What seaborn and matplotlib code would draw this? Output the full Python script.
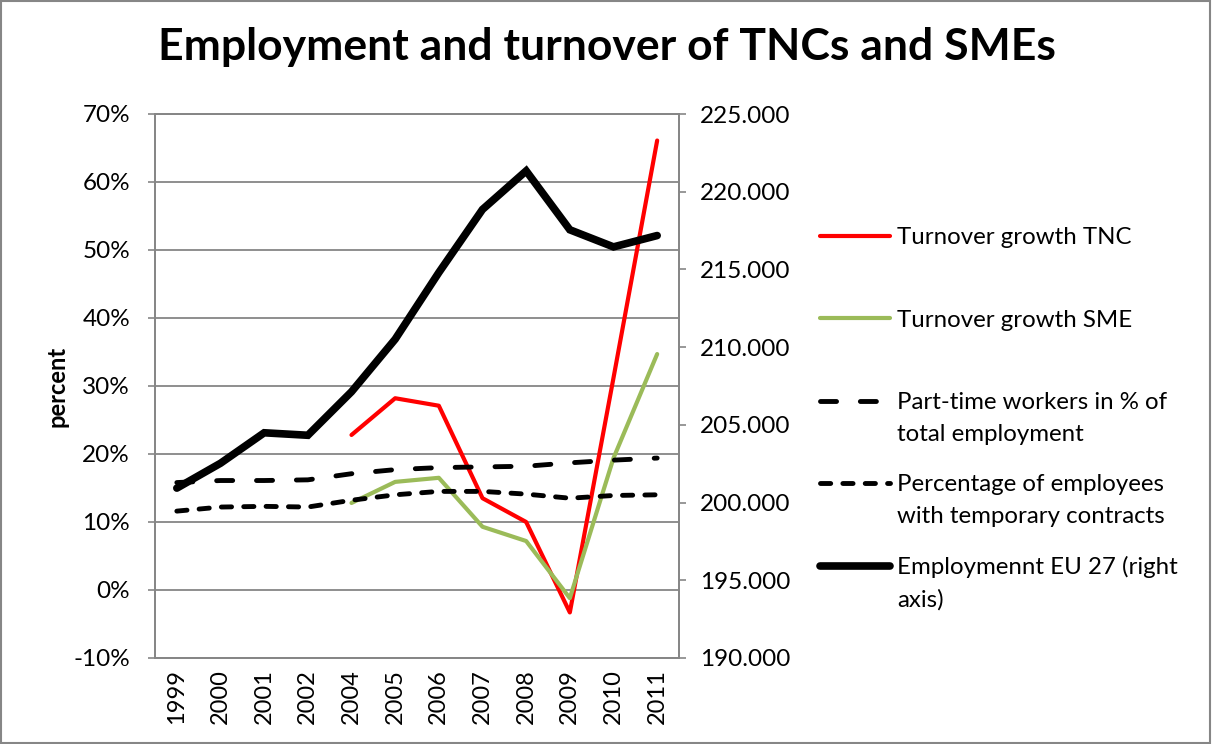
import numpy as np
import pandas as pd
import seaborn as sns
import matplotlib.pyplot as plt
from matplotlib.ticker import MultipleLocator, FuncFormatter
from matplotlib.patches import Rectangle

# ---- data ----
years = ["1999", "2000", "2001", "2002", "2004", "2005", "2006",
         "2007", "2008", "2009", "2010", "2011"]
tnc_growth = [np.nan, np.nan, np.nan, np.nan, 22.8, 28.2, 27.1, 13.5, 10.0, -3.3, 31.2, 66.1]
sme_growth = [np.nan, np.nan, np.nan, np.nan, 12.8, 15.9, 16.5, 9.3, 7.2, -1.2, 19.4, 34.7]
part_time = [15.8, 16.1, 16.1, 16.2, 17.1, 17.7, 18.0, 18.1, 18.2, 18.7, 19.1, 19.4]
temporary = [11.6, 12.2, 12.3, 12.2, 13.2, 14.0, 14.5, 14.5, 14.1, 13.5, 13.9, 14.0]
employment = [200.93, 202.53, 204.49, 204.33, 207.13, 210.51, 214.8,
              218.86, 221.34, 217.55, 216.45, 217.18]

labels = ["Turnover growth TNC", "Turnover growth SME",
          "Part-time workers in % of\ntotal employment",
          "Percentage of employees\nwith temporary contracts",
          "Employmennt EU 27 (right\naxis)"]

df = pd.DataFrame({"pos": np.arange(len(years)), "year": years,
                   "tnc": tnc_growth, "sme": sme_growth,
                   "part": part_time, "temp": temporary, "emp": employment})

sns.set_style("white")
plt.rcParams["font.family"] = ["Lato", "DejaVu Sans"]
plt.rcParams["text.color"] = "black"
plt.rcParams["xtick.color"] = "black"
plt.rcParams["ytick.color"] = "black"
plt.rcParams["axes.labelcolor"] = "black"

GRID = "#868686"
fig = plt.figure(figsize=(12.12, 7.44), dpi=100)
ax = fig.add_axes([155 / 1212, 1 - 658 / 744, 524 / 1212, 544 / 744])
ax2 = ax.twinx()

sns.lineplot(data=df, x="pos", y="tnc", ax=ax, color="#FF0000", lw=3.0,
             solid_capstyle="round", legend=False)
sns.lineplot(data=df, x="pos", y="sme", ax=ax, color="#9BBB59", lw=3.0,
             solid_capstyle="round", legend=False)
sns.lineplot(data=df, x="pos", y="part", ax=ax, color="black", lw=3.5,
             linestyle=(0, (3.3, 4.9)), dash_capstyle="round", legend=False)
sns.lineplot(data=df, x="pos", y="temp", ax=ax, color="black", lw=3.5,
             linestyle=(0, (2.1, 2.5)), dash_capstyle="round", legend=False)
sns.lineplot(data=df, x="pos", y="emp", ax=ax2, color="black", lw=5.5,
             solid_capstyle="round", solid_joinstyle="miter", legend=False)

handles = list(ax.get_lines()) + list(ax2.get_lines())

ax.set_xlim(-0.5, len(years) - 0.5)
ax.set_ylim(-10, 70)
ax.yaxis.set_major_locator(MultipleLocator(10))
ax.yaxis.set_major_formatter(FuncFormatter(lambda v, p: f"{v:.0f}%"))
ax2.set_ylim(190, 225)
ax2.yaxis.set_major_locator(MultipleLocator(5))
ax2.yaxis.set_major_formatter(FuncFormatter(lambda v, p: f"{v:.3f}"))

ax.set_xticks(df["pos"])
ax.set_xticklabels(years, rotation=90)
ax.set_xlabel("")
ax2.set_xlabel("")
ax.set_ylabel("percent", fontsize=17, fontweight="bold")
ax.yaxis.set_label_coords((68 - 155) / 524, 0.5)
ax2.set_ylabel("")

ax.grid(axis="y", color=GRID, lw=1.3)
ax.grid(axis="x", visible=False)
ax.set_axisbelow(True)
for a in (ax, ax2):
    for s in a.spines.values():
        s.set_color(GRID)
        s.set_linewidth(1.3)
ax.tick_params(axis="y", which="major", length=5, color=GRID, width=1.2,
               labelsize=17.5, pad=13, left=True, labelcolor="black")
ax.tick_params(axis="x", length=0, labelsize=17, pad=8, labelcolor="black")
ax2.tick_params(axis="y", length=5, color=GRID, width=1.2, labelsize=17.5, pad=10,
                right=True, labelcolor="black")

fig.text(607 / 1212, 1 - 47 / 744, "Employment and turnover of TNCs and SMEs",
         ha="center", va="center", fontsize=32, fontweight="bold", color="black")

# legend entries, each placed next to the plot
y_tops = [238, 320, 402, 484, 566]
for h, lab, yt in zip(handles, labels, y_tops):
    lines = lab.split("\n")
    hs = [h] + [plt.Line2D([], [], color="none")] * (len(lines) - 1)
    if len(lines) > 1:
        loc, anchor_y = "upper left", 1 - (yt - 10) / 744
    else:
        loc, anchor_y = "center left", 1 - yt / 744
    fig.legend(hs, lines, loc=loc, bbox_to_anchor=(820 / 1212, anchor_y),
               frameon=False, fontsize=17.3, handlelength=2.9, handletextpad=0.3,
               labelspacing=0.46, borderpad=0, borderaxespad=0)

fig.patches.append(Rectangle((0.001, 0.001), 0.997, 0.997, transform=fig.transFigure,
                             fill=False, edgecolor=GRID, lw=1.5))

fig.savefig("out.png", dpi=100)
